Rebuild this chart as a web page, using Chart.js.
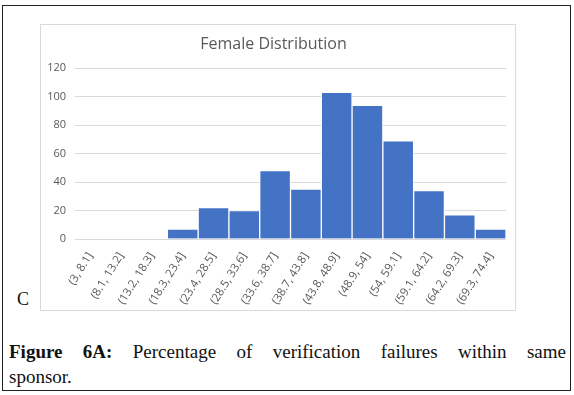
<!DOCTYPE html>
<html>
<head>
<meta charset="utf-8">
<script src="https://cdn.jsdelivr.net/npm/chart.js@4.4.0/dist/chart.umd.min.js"></script>
<style>
  html, body { margin: 0; padding: 0; background: #fff; }
  #page { position: relative; width: 574px; height: 395px; overflow: hidden; }
  #frame { position: absolute; left: 2px; top: 5px; width: 567px; height: 384px; border: 1.5px solid #222; }
  #box { position: absolute; left: 40px; top: 24px; width: 474px; height: 285px; border: 1px solid #d9d9d9; }
  #letter { position: absolute; left: 17px; top: 289px; font-family: "Liberation Serif", serif; font-size: 18px; color: #111; }
  #caption { position: absolute; left: 9px; top: 339px; width: 557px; font-family: "Liberation Serif", serif; font-size: 19px; line-height: 25px; color: #111; }
  #caption .l1 { text-align: justify; text-align-last: justify; }
</style>
</head>
<body>
<div id="page">
  <div id="frame"></div>
  <div id="box"><canvas id="myChart" width="474" height="285"></canvas></div>
  <div id="letter">C</div>
  <div id="caption"><div class="l1"><b>Figure 6A:</b> Percentage of verification failures within same</div><div>sponsor.</div></div>
</div>
<script>
const bins = ["(3, 8.1]", "(8.1, 13.2]", "(13.2, 18.3]", "(18.3, 23.4]", "(23.4, 28.5]",
  "(28.5, 33.6]", "(33.6, 38.7]", "(38.7, 43.8]", "(43.8, 48.9]", "(48.9, 54]",
  "(54, 59.1]", "(59.1, 64.2]", "(64.2, 69.3]", "(69.3, 74.4]"];
const counts = [0, 0, 0, 7, 22, 20, 48, 35, 103, 94, 69, 34, 17, 7];
const yTicks = [0, 20, 40, 60, 80, 100, 120];

new Chart("myChart", {
  type: "bar",
  data: {
    labels: bins,
    datasets: [
      {
        data: counts,
        backgroundColor: "#4472C4",
        borderColor: "#ffffff",
        borderWidth: 1,
        categoryPercentage: 1,
        barPercentage: 1,
      },
    ],
  },
  options: {
    responsive: false,
    animation: false,
    layout: { padding: { left: 0, right: 9, top: 0, bottom: 0 } },
    plugins: {
      title: {
        display: true,
        text: "Female Distribution",
        color: "#595959",
        font: { family: "Open Sans", size: 16, weight: "normal" },
        padding: { top: 10, bottom: 14 },
      },
      legend: { display: false },
      tooltip: { enabled: false },
    },
    scales: {
      x: {
        grid: { display: false },
        border: { display: false },
        ticks: {
          color: "#595959",
          font: { family: "Open Sans", size: 11.5 },
          minRotation: 58,
          maxRotation: 58,
          padding: 3,
        },
        afterFit: (scale) => { scale.height = 71; },
      },
      y: {
        min: 0,
        max: 120,
        afterBuildTicks: (scale) => { scale.ticks = yTicks.map((v) => ({ value: v })); },
        grid: { color: "#d9d9d9", drawTicks: false },
        border: { display: false },
        ticks: {
          color: "#595959",
          font: { family: "Open Sans", size: 11 },
          padding: 9,
        },
        afterFit: (scale) => { scale.width = 34; },
      },
    },
  },
});
</script>
</body>
</html>
